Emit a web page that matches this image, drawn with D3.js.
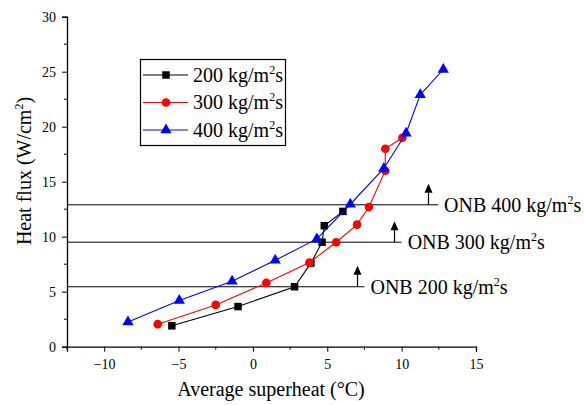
<!DOCTYPE html>
<html>
<head>
<meta charset="utf-8">
<script src="https://cdn.jsdelivr.net/npm/d3@7"></script>
<style>
  body { margin: 0; background: #fff; }
  svg text { font-family: "Liberation Serif", "Times New Roman", serif; fill: #000; }
</style>
</head>
<body>
<svg id="chart" width="584" height="405"></svg>
<script>
// data
var x200 = [-5.45, -1.0, 2.8, 3.9, 4.65, 4.8, 6.05];
var y200 = [1.9, 3.65, 5.45, 7.6, 9.5, 11.0, 12.3];

var x300 = [-6.4, -2.5, 0.9, 3.8, 5.6, 7.0, 7.8, 8.9, 8.9, 10.05];
var y300 = [2.05, 3.8, 5.8, 7.65, 9.5, 11.1, 12.7, 16.0, 18.0, 19.0];

var x400 = [-8.4, -4.95, -1.4, 1.5, 4.3, 6.55, 8.8, 10.3, 11.25, 12.8];
var y400 = [2.25, 4.2, 5.95, 7.85, 9.8, 12.95, 16.2, 19.4, 22.9, 25.2];

var seriesNames = ["200 kg/m", "300 kg/m", "400 kg/m"];

// ONB markers
var onbFlux = [5.45, 9.5, 12.9];
var onbArrowX = [7.0, 9.5, 11.8];
var onbLineEnd = [7.5, 10.0, 12.45];
var onbLabels = ["ONB 200 kg/m", "ONB 300 kg/m", "ONB 400 kg/m"];

var xTicks = [-10, -5, 0, 5, 10, 15];
var yTicks = [0, 5, 10, 15, 20, 25, 30];

var svg = d3.select("#chart");
var MARGINS = { top: 16.7, right: 108, bottom: 58.3, left: 67 };
var W = 584, H = 405;
var SERIF = "'Liberation Serif', 'Times New Roman', serif";

var xScale = d3.scaleLinear().domain([-12.5, 15]).range([MARGINS.left, W - MARGINS.right]);
var yScale = d3.scaleLinear().domain([0, 30]).range([H - MARGINS.bottom, MARGINS.top]);

// axes
var xAxis = d3.axisBottom(xScale).tickValues(xTicks).tickSize(5).tickPadding(7).tickFormat(d3.format("d"));
var yAxis = d3.axisLeft(yScale).tickValues(yTicks).tickSize(5).tickPadding(6).tickFormat(d3.format("d"));

var gx = svg.append("g").attr("transform", "translate(0," + yScale(0) + ")").call(xAxis);
var gy = svg.append("g").attr("transform", "translate(" + xScale(-12.5) + ",0)").call(yAxis);

// minor ticks
gx.selectAll(".minor").data(d3.range(-12.5, 15, 5)).enter().append("line")
  .attr("x1", function(d) { return xScale(d); }).attr("x2", function(d) { return xScale(d); })
  .attr("y1", 0).attr("y2", 3).attr("stroke", "#000");
gy.selectAll(".minor").data(d3.range(2.5, 30, 5)).enter().append("line")
  .attr("y1", function(d) { return yScale(d); }).attr("y2", function(d) { return yScale(d); })
  .attr("x1", 0).attr("x2", -3).attr("stroke", "#000");

[gx, gy].forEach(function(g) {
  g.attr("font-family", SERIF).attr("font-size", 14);
  g.select(".domain").attr("stroke", "#000").attr("stroke-width", 1.3);
  g.selectAll(".tick line").attr("stroke", "#000").attr("stroke-width", 1);
  g.selectAll("text").attr("fill", "#000");
});

// axis titles
svg.append("text")
  .attr("x", 271).attr("y", 396)
  .attr("text-anchor", "middle").attr("font-family", SERIF).attr("font-size", 20)
  .text("Average superheat (\u00b0C)");

var yt = svg.append("text")
  .attr("transform", "translate(31,171) rotate(-90)")
  .attr("text-anchor", "middle").attr("font-family", SERIF).attr("font-size", 20);
yt.append("tspan").text("Heat flux (W/cm");
yt.append("tspan").attr("dy", -8).attr("font-size", 12).text("2");
yt.append("tspan").attr("dy", 8).text(")");

// ONB lines + arrows + labels
onbFlux.forEach(function(f, i) {
  var y0 = yScale(f);
  svg.append("line")
    .attr("x1", xScale(-12.5)).attr("x2", xScale(onbLineEnd[i]))
    .attr("y1", y0).attr("y2", y0)
    .attr("stroke", "#000").attr("stroke-width", 1);
  var ax = Math.round(xScale(onbArrowX[i])) + 0.5;
  svg.append("line")
    .attr("x1", ax).attr("x2", ax)
    .attr("y1", y0).attr("y2", y0 - 13)
    .attr("stroke", "#000").attr("stroke-width", 1.2);
  svg.append("path")
    .attr("d", "M" + (ax - 4) + "," + (y0 - 12) + " L" + ax + "," + (y0 - 21) + " L" + (ax + 4) + "," + (y0 - 12) + " Z")
    .attr("fill", "#000");
  var t = svg.append("text")
    .attr("x", xScale(onbLineEnd[i]) + 6).attr("y", y0 + 7)
    .attr("font-family", SERIF).attr("font-size", 20);
  t.append("tspan").text(onbLabels[i]);
  t.append("tspan").attr("dy", -8).attr("font-size", 12).text("2");
  t.append("tspan").attr("dy", 8).text("s");
});

// series
var series = [
  { xs: x200, ys: y200, color: "#000000", shape: d3.symbolSquare, size: 56 },
  { xs: x300, ys: y300, color: "#ff0000", shape: d3.symbolCircle, size: 58 },
  { xs: x400, ys: y400, color: "#0000ff", shape: d3.symbolTriangle, size: 55 }
];

var line = d3.line().x(function(d) { return xScale(d[0]); }).y(function(d) { return yScale(d[1]); });

series.forEach(function(s) {
  var pts = s.xs.map(function(x, i) { return [x, s.ys[i]]; });
  svg.append("path").datum(pts).attr("d", line)
    .attr("fill", "none").attr("stroke", s.color).attr("stroke-width", 1.1);
  svg.selectAll(null).data(pts).enter().append("path")
    .attr("d", d3.symbol().type(s.shape).size(s.size))
    .attr("transform", function(d) { return "translate(" + xScale(d[0]) + "," + yScale(d[1]) + ")"; })
    .attr("fill", s.color);
});

// legend
var lg = svg.append("g");
lg.append("rect").attr("x", 140.5).attr("y", 59.5).attr("width", 145).attr("height", 86)
  .attr("fill", "#fff").attr("stroke", "#000").attr("stroke-width", 1.2);
var legY = [75, 102.5, 130];
series.forEach(function(s, i) {
  lg.append("line").attr("x1", 143).attr("x2", 188).attr("y1", legY[i]).attr("y2", legY[i])
    .attr("stroke", s.color).attr("stroke-width", 1.1);
  lg.append("path").attr("d", d3.symbol().type(s.shape).size(s.size))
    .attr("transform", "translate(166," + legY[i] + ")").attr("fill", s.color);
  var t = lg.append("text").attr("x", 193).attr("y", legY[i] + 6.5)
    .attr("font-family", SERIF).attr("font-size", 20);
  t.append("tspan").text(seriesNames[i]);
  t.append("tspan").attr("dy", -8).attr("font-size", 12).text("2");
  t.append("tspan").attr("dy", 8).text("s");
});
</script>
</body>
</html>
